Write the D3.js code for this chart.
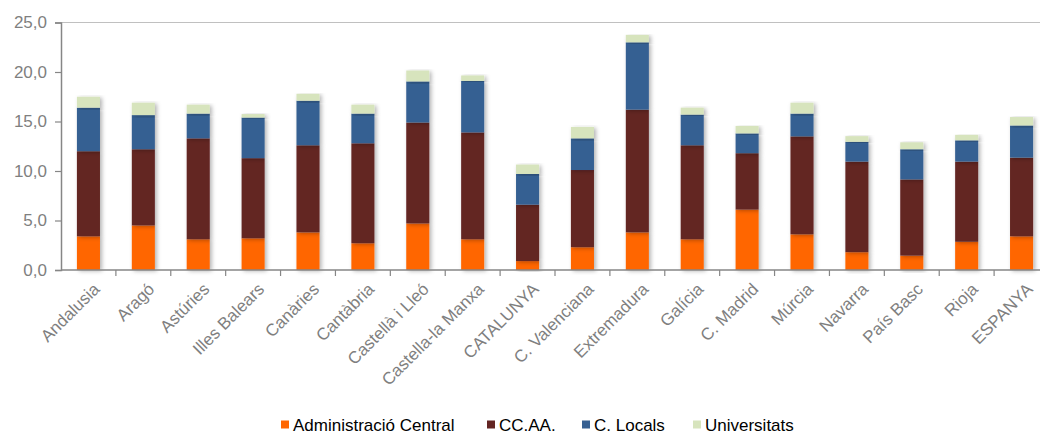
<!DOCTYPE html>
<html><head><meta charset="utf-8">
<script src="https://cdn.jsdelivr.net/npm/d3@7"></script>
<style>body{margin:0;background:#fff;} svg{display:block;font-family:"Liberation Sans",Arial,sans-serif;}</style>
</head><body>
<svg id="c" width="1040" height="435"></svg>
<script>
const categories = ["Andalusia","Aragó","Astúries","Illes Balears","Canàries","Cantàbria","Castellà i Lleó","Castella-la Manxa","CATALUNYA","C. Valenciana","Extremadura","Galícia","C. Madrid","Múrcia","Navarra","País Basc","Rioja","ESPANYA"];
const seriesNames = ["Administració Central","CC.AA.","C. Locals","Universitats"];
const adminCentral = [3.4,4.5,3.1,3.2,3.8,2.7,4.7,3.1,0.9,2.3,3.8,3.1,6.1,3.6,1.8,1.45,2.85,3.4];
const ccaa =         [8.6,7.7,10.2,8.1,8.8,10.1,10.2,10.8,5.7,7.8,12.4,9.5,5.7,9.9,9.15,7.7,8.1,7.95];
const cLocals =      [4.4,3.45,2.5,4.1,4.5,3.0,4.15,5.2,3.1,3.2,6.8,3.1,2.0,2.3,2.0,3.05,2.15,3.25];
const universitats = [1.1,1.25,0.9,0.35,0.7,0.9,1.1,0.55,0.95,1.15,0.75,0.7,0.75,1.1,0.57,0.7,0.55,0.85];
const yTicks = [0,5,10,15,20,25];
const colors = ["#FF6600","#632523","#366092","#D7E4BD"];

const svg = d3.select("#c");
const x = d3.scaleBand().domain(categories).range([61,1049]).paddingInner(0.58).paddingOuter(0.29);
const xTick = d3.scaleBand().domain(categories).range([61,1049]);
const y = d3.scaleLinear().domain([0,25]).range([270,22.5]);

const defs = svg.append("defs");
const f = defs.append("filter").attr("id","sh").attr("x","-30%").attr("y","-10%").attr("width","160%").attr("height","130%");
f.append("feDropShadow").attr("dx",2).attr("dy",1).attr("stdDeviation",2).attr("flood-color","#000").attr("flood-opacity",0.3);

// top gridline
svg.append("line").attr("x1",61).attr("x2",1049).attr("y1",y(25)).attr("y2",y(25)).attr("stroke","#c0c0c0").attr("stroke-width",1.2);

const rows = categories.map((c,i)=>({cat:c, s0:adminCentral[i], s1:ccaa[i], s2:cLocals[i], s3:universitats[i]}));
const stack = d3.stack().keys(["s0","s1","s2","s3"])(rows);

const gBars = svg.append("g");
stack.forEach((layer,li)=>{
  gBars.append("g").attr("fill",colors[li]).selectAll("rect").data(layer).join("rect")
    .attr("x",d=>x(d.data.cat)).attr("width",x.bandwidth())
    .attr("y",d=>y(d[1])).attr("height",d=>y(d[0])-y(d[1]))
    .attr("filter","url(#sh)");
});

// y axis
const yAxis = svg.append("g").attr("transform","translate(61,0)")
  .call(d3.axisLeft(y).tickValues(yTicks).tickSize(6).tickPadding(8).tickFormat(d=>d3.format(".1f")(d).replace(".",",")));
yAxis.select(".domain").attr("stroke","#868686").attr("stroke-width",1.5);
yAxis.selectAll(".tick line").attr("stroke","#868686").attr("stroke-width",1.2);
yAxis.selectAll("text").attr("fill","#7f7f7f").style("font-size","17px").style("font-family","'Liberation Sans',Arial,sans-serif");

// x axis
const xAxisG = svg.append("g").attr("transform","translate(0,270)");
xAxisG.append("line").attr("x1",61).attr("x2",1049).attr("stroke","#868686").attr("stroke-width",1.5);
xAxisG.selectAll("line.t").data(categories.slice(0)).join("line").attr("class","t")
  .attr("x1",d=>xTick(d)+xTick.bandwidth()).attr("x2",d=>xTick(d)+xTick.bandwidth())
  .attr("y1",0).attr("y2",6).attr("stroke","#868686").attr("stroke-width",1.2);
xAxisG.selectAll("text").data(categories).join("text")
  .attr("transform",d=>`translate(${xTick(d)+xTick.bandwidth()/2+8},${16}) rotate(-45)`)
  .attr("text-anchor","end").attr("dy","0.35em")
  .attr("fill","#7f7f7f").style("font-size","17px").text(d=>d);

// legend
const legendX = [281,487,582,693];
const lg = svg.append("g");
seriesNames.forEach((n,i)=>{
  lg.append("rect").attr("x",legendX[i]).attr("y",420.5).attr("width",8).attr("height",8).attr("fill",colors[i]);
  lg.append("text").attr("x",legendX[i]+12).attr("y",431).attr("fill","#000").style("font-size","17px").text(n);
});
</script>
</body></html>
